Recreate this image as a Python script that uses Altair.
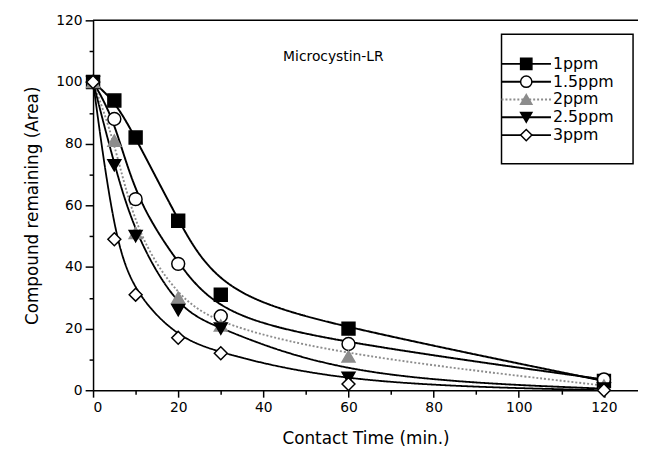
import altair as alt
import pandas as pd

# ---- data ----
time_min = [0, 5, 10, 20, 30, 60, 120]
ppm_1 = [100, 94, 82, 55, 31, 20, 3]
ppm_1_5 = [100, 88, 62, 41, 24, 15, 3.5]
ppm_2 = [100, 81, 51, 30, 21, 11, 1.5]
ppm_2_5 = [100, 73, 50, 26, 20, 4, 0.5]
ppm_3 = [100, 49, 31, 17, 12, 2, 0]
series = ["1ppm", "1.5ppm", "2ppm", "2.5ppm", "3ppm"]
x_ticks = [0, 20, 40, 60, 80, 100, 120]
x_minor = [10, 30, 50, 70, 90, 110]
y_ticks = [0, 20, 40, 60, 80, 100, 120]
y_minor = [10, 30, 50, 70, 90, 110]

values = [ppm_1, ppm_1_5, ppm_2, ppm_2_5, ppm_3]
rows = []
for name, vals in zip(series, values):
    for t, v in zip(time_min, vals):
        rows.append({"series": name, "time": t, "value": v})
df = pd.DataFrame(rows)
leg = pd.DataFrame({"series": series})
one = pd.DataFrame({"a": [0]})

FONT = "DejaVu Sans"
W, H = 551, 374

xs = alt.Scale(domain=[0, 128], nice=False, zero=False)
ys = alt.Scale(domain=[0, 120], nice=False, zero=False)

line_cols = ["black", "black", "#8c8c8c", "black", "black"]
color = alt.Color("series:N", legend=None, scale=alt.Scale(domain=series, range=line_cols))
stroke = alt.Stroke("series:N", legend=None, scale=alt.Scale(domain=series, range=line_cols))
fill = alt.Fill("series:N", legend=None, scale=alt.Scale(
    domain=series, range=["black", "white", "#8c8c8c", "black", "white"]))
shape = alt.Shape("series:N", legend=None, scale=alt.Scale(
    domain=series, range=["square", "circle", "triangle-up", "triangle-down", "diamond"]))
dash = alt.StrokeDash("series:N", legend=None, scale=alt.Scale(
    domain=series, range=[[1, 0], [1, 0], [2, 2], [1, 0], [1, 0]]))
sw = alt.StrokeWidth("series:N", legend=None, scale=alt.Scale(
    domain=series, range=[2, 1.8, 1.2, 1.8, 1.8]))

main_x_axis = alt.Axis(values=x_ticks, title="Contact Time (min.)", orient="bottom",
                       tickSize=7, labelPadding=4, titlePadding=16, grid=False)
main_y_axis = alt.Axis(values=y_ticks, title="Compound remaining (Area)", orient="left",
                       tickSize=8, labelPadding=3, titlePadding=14, grid=False)

lines = alt.Chart(df).mark_line(interpolate="basis").encode(
    x=alt.X("time:Q", scale=xs, axis=main_x_axis),
    y=alt.Y("value:Q", scale=ys, axis=main_y_axis),
    color=color, strokeDash=dash, strokeWidth=sw, detail="series:N",
)

points = alt.Chart(df).mark_point(filled=False, size=170, strokeWidth=1.5, opacity=1).encode(
    x=alt.X("time:Q", scale=xs, axis=None),
    y=alt.Y("value:Q", scale=ys, axis=None),
    shape=shape, fill=fill, stroke=stroke,
)

minor = alt.Chart(df).mark_point(opacity=0).encode(
    x=alt.X("time:Q", scale=xs, axis=alt.Axis(values=x_minor, orient="bottom", labels=False,
                                              domain=False, tickSize=4, title=None, grid=False)),
    y=alt.Y("value:Q", scale=ys, axis=alt.Axis(values=y_minor, orient="left", labels=False,
                                               domain=False, tickSize=4, title=None, grid=False)),
)

top_line = alt.Chart(one).mark_rule(color="black", strokeWidth=1.5).encode(
    x=alt.value(0), x2=alt.value(W), y=alt.value(0)
)

label = alt.Chart(one).mark_text(text="Microcystin-LR", font=FONT, fontSize=14,
                                 align="center", baseline="middle", color="black").encode(
    x=alt.value(243), y=alt.value(37)
)

box = alt.Chart(one).mark_rect(fill="white", stroke="black", strokeWidth=1.5).encode(
    x=alt.value(413), x2=alt.value(546), y=alt.value(14), y2=alt.value(145)
)

ly = alt.Y("series:N", scale=alt.Scale(domain=series, range=[35, 125]), axis=None)

leg_lines = alt.Chart(leg).mark_rule().encode(
    x=alt.value(413), x2=alt.value(463), y=ly,
    color=color, strokeDash=dash, strokeWidth=sw,
)
leg_pts = alt.Chart(leg).mark_point(filled=False, size=130, strokeWidth=1.5, opacity=1).encode(
    x=alt.value(438), y=ly, shape=shape, fill=fill, stroke=stroke,
)
leg_txt = alt.Chart(leg).mark_text(font=FONT, fontSize=16, align="left", baseline="middle",
                                   color="black").encode(
    x=alt.value(465), y=ly, text="series:N"
)

chart = alt.layer(
    lines, points, minor, top_line, label, box, leg_lines, leg_pts, leg_txt
).resolve_scale(y="independent").resolve_axis(x="independent", y="independent").properties(
    width=W, height=H,
    autosize=alt.AutoSizeParams(type="none"),
    padding={"left": 86, "top": 10, "right": 0, "bottom": 64},
).configure_view(stroke=None).configure_axis(
    domainColor="black", domainWidth=1.5, tickColor="black", tickWidth=1.5,
    labelColor="black", titleColor="black", labelFont=FONT, titleFont=FONT,
    labelFontSize=14, titleFontSize=17, labelFontWeight="normal", titleFontWeight="normal",
)

chart.save("out.html", embed_options={"renderer": "svg", "actions": False})
